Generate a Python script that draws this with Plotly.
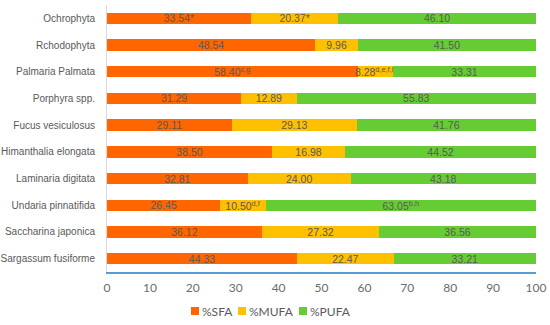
import plotly.graph_objects as go

categories = ["Ochrophyta", "Rchodophyta", "Palmaria Palmata", "Porphyra spp.",
              "Fucus vesiculosus", "Himanthalia elongata", "Laminaria digitata",
              "Undaria pinnatifida", "Saccharina japonica", "Sargassum fusiforme"]
sfa = [33.54, 48.54, 58.40, 31.29, 29.11, 38.50, 32.81, 26.45, 36.12, 44.33]
mufa = [20.37, 9.96, 8.28, 12.89, 29.13, 16.98, 24.00, 10.50, 27.32, 22.47]
pufa = [46.10, 41.50, 33.31, 55.83, 41.76, 44.52, 43.18, 63.05, 36.56, 33.21]
sfa_labels = ["33.54*", "48.54", "58.40<sup>c,g</sup>", "31.29", "29.11", "38.50",
              "32.81", "26.45", "36.12", "44.33"]
mufa_labels = ["20.37*", "9.96", "8.28<sup>d,e,f,h</sup>", "12.89", "29.13", "16.98",
               "24.00", "10.50<sup>d,f</sup>", "27.32", "22.47"]
pufa_labels = ["46.10", "41.50", "33.31", "55.83", "41.76", "44.52", "43.18",
               "63.05<sup>b,h</sup>", "36.56", "33.21"]
series = [("%SFA", sfa, sfa_labels, "#FF6600"),
          ("%MUFA", mufa, mufa_labels, "#FFC000"),
          ("%PUFA", pufa, pufa_labels, "#66CC33")]

W, H = 550, 325
L, R, T, B = 107, 14, 5, 53

fig = go.Figure()
for name, vals, labels, color in series:
    fig.add_trace(go.Bar(
        y=categories, x=vals, name=name, orientation="h",
        marker=dict(color=color, line=dict(width=0)),
        text=labels, textposition="inside", insidetextanchor="middle",
        textangle=0, constraintext="none", showlegend=False,
        textfont=dict(family="Liberation Sans", size=10.5, color="#595959"),
    ))

# compact Excel-style legend below the axis
pw, ph = W - L - R, H - T - B
def px_x(x):
    return (x - L) / pw
def px_y(y):
    return (H - B - y) / ph

legend_items = [("%SFA", "#FF6600", 191), ("%MUFA", "#FFC000", 238), ("%PUFA", "#66CC33", 299)]
for name, color, x0 in legend_items:
    fig.add_shape(type="rect", xref="paper", yref="paper",
                  x0=px_x(x0), x1=px_x(x0 + 8), y0=px_y(315), y1=px_y(307),
                  fillcolor=color, line=dict(width=0))
    fig.add_annotation(text=name, xref="paper", yref="paper",
                       x=px_x(x0 + 9), y=px_y(311), xanchor="left", yanchor="middle",
                       showarrow=False,
                       font=dict(family="Lato", size=12, color="#595959"))

fig.update_layout(
    barmode="stack", bargap=0.57,
    width=W, height=H,
    margin=dict(l=L, r=R, t=T, b=B, autoexpand=False),
    paper_bgcolor="white", plot_bgcolor="white",
    uniformtext=dict(minsize=10.5, mode="show"),
    font=dict(family="Liberation Sans", color="#595959"),
    showlegend=False,
    xaxis=dict(range=[0, 100], dtick=10, showgrid=False, zeroline=False,
               showline=True, linecolor="#5B9BD5", linewidth=1.5,
               ticks="", ticklabelstandoff=4, automargin=False,
               tickfont=dict(family="Lato", size=12, color="#6B6B6B")),
    yaxis=dict(autorange="reversed", showgrid=False, zeroline=False,
               showline=True, linecolor="#D9D9D9", linewidth=1,
               ticks="", ticklabelstandoff=9, automargin=False,
               tickfont=dict(family="Liberation Sans", size=10, color="#595959")),
)

fig.write_html("out.html", config={"displayModeBar": False},
               post_script="document.body.style.margin='0';document.body.style.padding='0';")
